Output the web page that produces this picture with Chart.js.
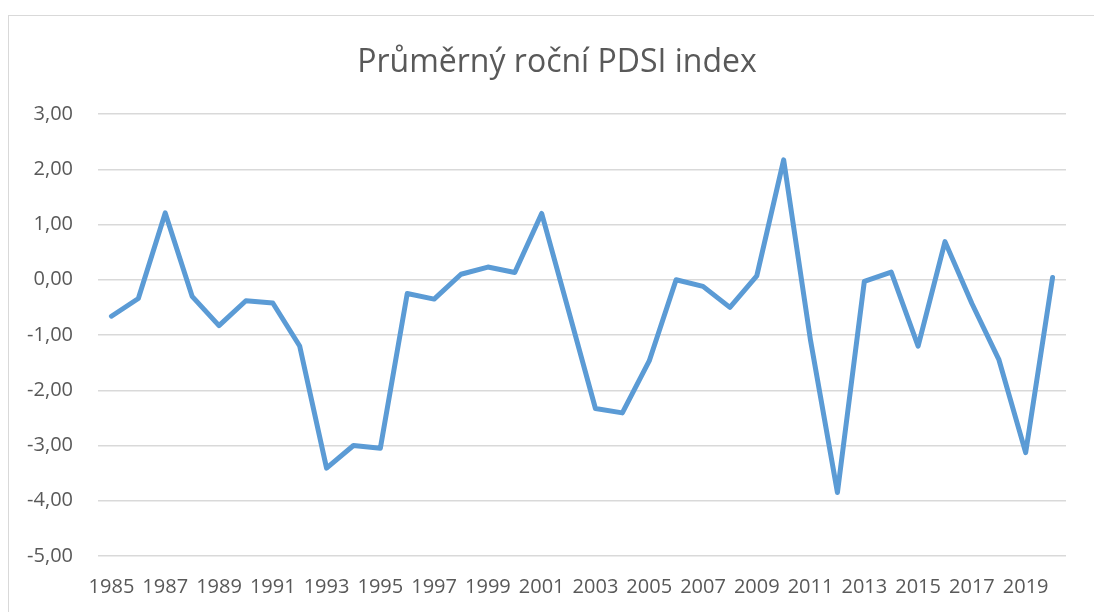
<!DOCTYPE html>
<html lang="cs">
<head>
<meta charset="utf-8">
<title>Průměrný roční PDSI index</title>
<script src="https://cdn.jsdelivr.net/npm/chart.js@4"></script>
<style>
  html, body { margin: 0; padding: 0; background: #ffffff; overflow: hidden; }
  #frame {
    position: absolute; left: 8px; top: 15px;
    width: 1100px; height: 610px;
    border: 1px solid #d9d9d9;
    box-sizing: border-box;
  }
  #pdsiChart { position: absolute; left: 0; top: 0; }
</style>
</head>
<body>
<div id="frame"></div>
<canvas id="pdsiChart" width="1094" height="612"></canvas>
<script>
// years on the x axis
const years = [
  1985, 1986, 1987, 1988, 1989, 1990, 1991, 1992, 1993, 1994,
  1995, 1996, 1997, 1998, 1999, 2000, 2001, 2002, 2003, 2004,
  2005, 2006, 2007, 2008, 2009, 2010, 2011, 2012, 2013, 2014,
  2015, 2016, 2017, 2018, 2019, 2020
];

// mean annual PDSI
const pdsiValues = [
  -0.66, -0.34, 1.21, -0.30, -0.83, -0.38, -0.42, -1.20, -3.41, -3.00,
  -3.05, -0.25, -0.35, 0.10, 0.23, 0.13, 1.20, -0.56, -2.33, -2.41,
  -1.47, 0.00, -0.12, -0.50, 0.07, 2.17, -1.10, -3.85, -0.03, 0.14,
  -1.20, 0.69, -0.43, -1.44, -3.13, 0.04
];

const chartTitle = 'Průměrný roční PDSI index';

const yMin = -5;
const yMax = 3;
const yStep = 1;

const textColor = '#595959';
const gridColor = '#d9d9d9';
const fontFamily = '"Open Sans", "Noto Sans", sans-serif';

// title is centred on the whole frame, not on the plot area
const frameTitle = {
  id: 'frameTitle',
  afterDraw: function (chart) {
    const c = chart.ctx;
    c.save();
    c.font = '32px ' + fontFamily;
    c.fillStyle = textColor;
    c.textAlign = 'center';
    c.textBaseline = 'middle';
    c.fillText(chartTitle, 557, 63);
    c.restore();
  }
};

const ctx = document.getElementById('pdsiChart').getContext('2d');

new Chart(ctx, {
  type: 'line',
  data: {
    labels: years,
    datasets: [{
      label: 'PDSI',
      data: pdsiValues,
      borderColor: '#5b9bd5',
      backgroundColor: '#5b9bd5',
      borderWidth: 5,
      borderCapStyle: 'round',
      borderJoinStyle: 'round',
      pointRadius: 0,
      pointHoverRadius: 0,
      fill: false,
      tension: 0
    }]
  },
  options: {
    responsive: false,
    animation: false,
    devicePixelRatio: 1,
    layout: {
      padding: { left: 0, right: 28, top: 114, bottom: 0 }
    },
    plugins: {
      legend: { display: false },
      tooltip: { enabled: false },
      title: { display: false }
    },
    scales: {
      x: {
        offset: true,
        grid: { display: false, drawTicks: false, offset: true },
        border: { display: false },
        ticks: {
          color: textColor,
          font: { family: fontFamily, size: 20 },
          padding: 19,
          autoSkip: false,
          maxRotation: 0,
          minRotation: 0,
          callback: function (value, index) {
            return index % 2 === 0 ? years[index] : '';
          }
        },
        afterFit: function (scale) {
          scale.height = 56;
        }
      },
      y: {
        min: yMin,
        max: yMax,
        grid: { color: gridColor, lineWidth: 1.5, drawTicks: false },
        border: { display: false },
        ticks: {
          stepSize: yStep,
          color: textColor,
          font: { family: fontFamily, size: 20 },
          padding: 25,
          callback: function (value) {
            return value.toFixed(2).replace('.', ',');
          }
        },
        afterFit: function (scale) {
          scale.width = 98;
        }
      }
    }
  },
  plugins: [frameTitle]
});
</script>
</body>
</html>
